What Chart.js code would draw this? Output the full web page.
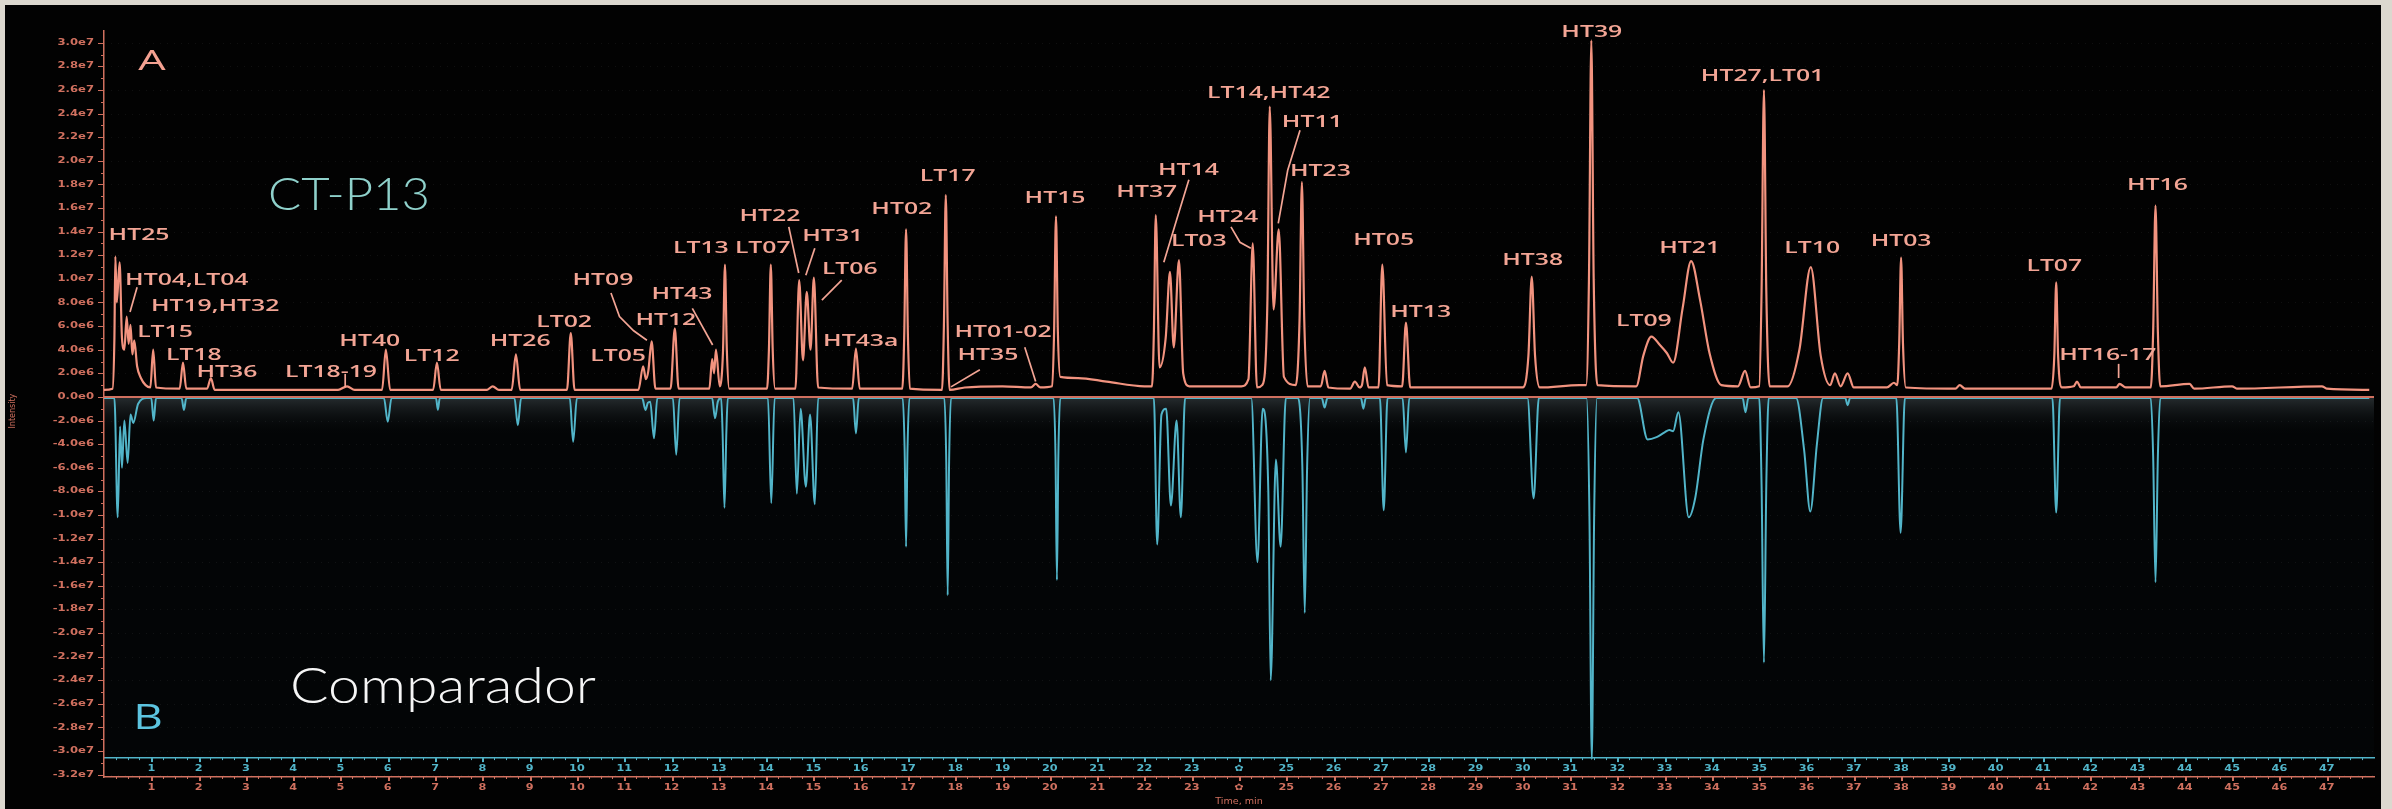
<!DOCTYPE html>
<html>
<head>
<meta charset="utf-8">
<script src="https://cdn.jsdelivr.net/npm/chart.js@4.4.1/dist/chart.umd.min.js"></script>
<style>
  html, body { margin: 0; padding: 0; background: #dcd8cf; }
  canvas { display: block; }
</style>
</head>
<body>
<canvas id="myChart" width="2392" height="809"></canvas>
<script>
// Mirror chromatogram: CT-P13 on top (positive), comparator below (negative).
// Time in minutes, intensity in units of 1e6.

const ctp13Trace = [
  [0.00,0.6],[0.18,0.7],[0.22,5.0],[0.24,11.9],[0.27,8.0],[0.33,11.4],[0.38,5.0],[0.43,4.0],[0.48,6.8],[0.52,4.5],
  [0.56,6.1],[0.60,3.6],[0.64,4.8],[0.70,2.6],[0.78,1.6],[0.88,1.0],[0.98,0.8],[1.04,4.0],[1.10,0.8],[1.60,0.7],
  [1.67,2.9],[1.74,0.7],[2.18,0.7],[2.26,1.6],[2.34,0.6],[4.95,0.6],[5.14,0.9],[5.30,0.6],[5.88,0.6],[5.96,4.0],
  [6.05,0.6],[6.96,0.6],[7.04,2.9],[7.12,0.6],[8.10,0.6],[8.22,0.9],[8.35,0.6],[8.62,0.6],[8.71,3.6],[8.80,0.6],
  [9.79,0.6],[9.87,5.4],[9.95,0.6],[11.30,0.6],[11.40,2.6],[11.46,1.5],[11.51,2.2],[11.58,4.7],[11.66,0.7],[11.98,0.7],
  [12.07,5.8],[12.15,0.7],[12.80,0.7],[12.86,3.2],[12.90,2.0],[12.94,4.0],[13.02,0.9],[13.09,4.0],[13.13,11.2],[13.17,4.0],
  [13.22,0.7],[14.02,0.7],[14.06,4.0],[14.10,11.2],[14.14,4.0],[14.19,0.7],[14.62,0.7],[14.70,9.9],[14.78,3.1],[14.86,8.9],
  [14.94,4.0],[15.01,10.1],[15.10,0.8],[15.82,0.7],[15.90,4.1],[15.98,0.7],[16.88,0.7],[16.92,5.0],[16.96,14.2],[17.00,5.0],
  [17.04,0.7],[17.72,0.6],[17.76,6.0],[17.80,17.1],[17.84,6.0],[17.88,0.6],[18.20,0.8],[19.00,0.9],[19.60,0.8],[19.70,1.1],
  [19.80,0.8],[20.05,0.9],[20.09,5.5],[20.13,15.3],[20.17,5.5],[20.22,1.7],[20.60,1.6],[21.20,1.3],[22.00,0.9],[22.16,0.9],
  [22.20,5.5],[22.24,15.4],[22.32,2.5],[22.45,5.0],[22.54,10.6],[22.62,4.2],[22.73,11.6],[22.82,2.0],[22.95,0.9],[24.05,0.9],
  [24.20,1.5],[24.29,13.0],[24.38,0.8],[24.49,1.0],[24.60,8.0],[24.65,24.6],[24.73,7.4],[24.84,14.2],[24.95,1.7],[25.20,1.0],
  [25.28,6.5],[25.33,18.2],[25.38,6.5],[25.45,0.9],[25.73,0.9],[25.81,2.2],[25.89,0.8],[26.35,0.7],[26.45,1.3],[26.55,0.8],
  [26.60,1.0],[26.66,2.5],[26.74,0.8],[26.95,0.8],[27.03,11.2],[27.13,1.0],[27.45,0.9],[27.53,6.3],[27.62,0.8],[30.00,0.8],
  [30.12,3.5],[30.19,10.2],[30.26,3.5],[30.36,0.8],[31.20,1.0],[31.34,1.0],[31.40,10.0],[31.45,30.2],[31.50,10.0],[31.58,1.0],
  [32.40,0.9],[32.55,3.5],[32.72,5.1],[32.90,4.4],[33.05,3.7],[33.18,2.9],[33.38,7.5],[33.56,11.5],[33.75,8.2],[33.95,3.7],
  [34.20,1.0],[34.55,0.9],[34.70,2.2],[34.82,0.8],[35.00,0.9],[35.05,9.0],[35.10,26.0],[35.15,9.0],[35.22,0.9],[35.60,0.9],
  [35.85,4.0],[36.09,11.0],[36.30,3.5],[36.50,1.0],[36.60,2.0],[36.72,0.9],[36.87,2.0],[37.00,0.8],[37.70,0.8],[37.85,1.2],
  [37.92,1.0],[37.96,4.5],[38.00,11.8],[38.04,4.5],[38.10,0.8],[39.15,0.7],[39.24,1.0],[39.35,0.7],[41.18,0.7],[41.24,3.5],
  [41.28,9.7],[41.32,3.5],[41.40,0.8],[41.65,0.9],[41.72,1.3],[41.80,0.8],[42.55,0.8],[42.62,1.1],[42.75,0.8],[43.28,0.8],
  [43.33,5.5],[43.38,16.2],[43.43,5.5],[43.48,0.9],[44.10,1.1],[44.20,0.7],[45.00,0.9],[45.10,0.7],[46.90,0.9],[47.00,0.7],
  [47.90,0.6]
];

const comparatorTrace = [
  [0.00,-0.1],[0.22,-0.1],[0.29,-10.2],[0.34,-2.5],[0.38,-6.0],[0.43,-2.0],[0.50,-5.6],[0.56,-1.5],[0.62,-2.2],[0.72,-0.6],
  [0.90,-0.1],[1.00,-0.1],[1.05,-2.0],[1.10,-0.1],[1.64,-0.1],[1.69,-1.1],[1.74,-0.1],[5.92,-0.1],[6.00,-2.1],[6.08,-0.1],
  [7.02,-0.1],[7.06,-1.1],[7.10,-0.1],[8.68,-0.1],[8.75,-2.4],[8.82,-0.1],[9.85,-0.1],[9.92,-3.8],[10.00,-0.1],[11.38,-0.1],
  [11.45,-1.1],[11.50,-0.5],[11.55,-0.4],[11.63,-3.5],[11.70,-0.1],[12.03,-0.1],[12.10,-4.9],[12.17,-0.1],[12.86,-0.1],[12.92,-1.8],
  [12.98,-0.4],[13.05,-0.1],[13.08,-3.0],[13.12,-9.4],[13.16,-3.0],[13.19,-0.1],[14.04,-0.1],[14.11,-9.0],[14.18,-0.1],[14.58,-0.1],
  [14.65,-8.2],[14.73,-1.0],[14.84,-7.6],[14.93,-1.5],[15.03,-9.1],[15.10,-0.1],[15.84,-0.1],[15.90,-3.1],[15.96,-0.1],[16.89,-0.1],
  [16.93,-4.5],[16.96,-12.7],[16.99,-4.5],[17.03,-0.1],[17.77,-0.1],[17.81,-5.5],[17.84,-16.8],[17.87,-5.5],[17.91,-0.1],[20.08,-0.1],
  [20.12,-5.0],[20.15,-15.5],[20.18,-5.0],[20.22,-0.1],[22.20,-0.1],[22.27,-12.5],[22.36,-1.5],[22.46,-1.0],[22.56,-9.2],[22.68,-2.0],
  [22.77,-10.2],[22.86,-0.1],[24.26,-0.1],[24.39,-14.0],[24.50,-1.0],[24.62,-8.0],[24.67,-24.0],[24.78,-5.3],[24.88,-12.7],[24.99,-0.1],
  [25.25,-0.1],[25.34,-6.0],[25.39,-18.3],[25.44,-6.0],[25.50,-0.1],[25.75,-0.1],[25.81,-0.9],[25.87,-0.1],[26.58,-0.1],[26.63,-1.0],
  [26.68,-0.1],[26.98,-0.1],[27.06,-9.6],[27.14,-0.1],[27.46,-0.1],[27.53,-4.7],[27.60,-0.1],[30.10,-0.1],[30.23,-8.6],[30.34,-0.1],
  [31.35,-0.1],[31.41,-10.0],[31.46,-30.7],[31.51,-10.0],[31.57,-0.1],[32.42,-0.1],[32.64,-3.6],[32.83,-3.4],[33.00,-3.0],[33.10,-2.8],
  [33.18,-2.9],[33.29,-1.3],[33.51,-10.2],[33.65,-8.5],[33.82,-3.6],[34.09,-0.1],[34.65,-0.1],[34.71,-1.3],[34.77,-0.1],[35.00,-0.1],
  [35.05,-7.5],[35.10,-22.5],[35.15,-7.5],[35.20,-0.1],[35.78,-0.1],[35.95,-4.5],[36.08,-9.7],[36.22,-4.0],[36.35,-0.1],[36.82,-0.1],
  [36.87,-0.7],[36.92,-0.1],[37.90,-0.1],[37.99,-11.5],[38.08,-0.1],[41.20,-0.1],[41.28,-9.8],[41.36,-0.1],[43.28,-0.1],[43.33,-5.0],
  [43.38,-15.7],[43.43,-5.0],[43.48,-0.1],[47.90,-0.1]
];

// peak annotations: name, time of label centre, intensity of label centre
const peakNames = ['HT25','HT04,LT04','HT19,HT32','LT15','LT18','HT36','LT18-19','HT40','LT12','HT26',
  'LT02','HT09','LT05','HT12','HT43','LT13','LT07','HT22','HT31','LT06',
  'HT43a','HT02','LT17','HT35','HT01-02','HT15','HT37','HT14','LT03','HT24',
  'LT14,HT42','HT11','HT23','HT05','HT13','HT38','HT39','LT09','HT21','HT27,LT01',
  'LT10','HT03','LT07','HT16-17','HT16'];
const peakLabelTime = [0.74,1.75,2.35,1.29,1.90,2.60,4.80,5.62,6.93,8.80,
  9.73,10.55,10.87,11.88,12.22,12.62,13.93,14.08,15.41,15.77,
  16.00,16.87,17.84,18.69,19.01,20.11,22.05,22.93,23.15,23.76,
  24.63,25.55,25.72,27.06,27.84,30.21,31.46,32.56,33.53,35.07,
  36.12,38.00,41.24,42.37,43.42];
const peakLabelLevel = [13.7,9.9,7.7,5.5,3.5,2.1,2.1,4.7,3.4,4.7,
  6.3,9.9,3.4,6.5,8.7,12.6,12.6,15.3,13.6,10.8,
  4.7,15.9,18.7,3.5,5.5,16.8,17.3,19.2,13.2,15.2,
  25.7,23.3,19.1,13.3,7.2,11.6,30.9,6.4,12.6,27.2,
  12.6,13.2,11.1,3.5,17.9];

// leader lines from labels to their peaks, as (time, intensity) points
const leaderLines = [
  [[0.70,9.3],[0.55,7.2]],
  [[5.10,1.95],[5.10,0.85]],
  [[10.72,8.8],[10.90,6.8],[11.20,5.6],[11.48,4.8]],
  [[12.44,7.5],[12.87,4.4]],
  [[14.48,14.4],[14.69,10.5]],
  [[15.03,12.6],[14.84,10.3]],
  [[15.60,9.9],[15.18,8.2]],
  [[18.52,2.3],[17.91,0.85]],
  [[19.47,4.2],[19.70,1.3]],
  [[22.94,18.4],[22.71,15.4],[22.41,11.4]],
  [[23.83,14.4],[24.02,13.1],[24.25,12.6]],
  [[25.29,22.6],[25.03,19.2],[24.83,14.7]],
  [[42.60,2.8],[42.60,1.6]]
];

const yTicks = [30,28,26,24,22,20,18,16,14,12,10,8,6,4,2,0,-2,-4,-6,-8,-10,-12,-14,-16,-18,-20,-22,-24,-26,-28,-30,-32];
const xTicks = [1,2,3,4,5,6,7,8,9,10,11,12,13,14,15,16,17,18,19,20,21,22,23,24,25,26,27,28,29,30,31,32,33,34,35,36,37,38,39,40,41,42,43,44,45,46,47];
const blueAxisAt = -30.6;

const SALMON = '#f2937f';
const LABEL = '#f3a595';
const AXIS_RED = '#d0705f';
const BLUE = '#52b5c9';

function stretchText(ctx, text, x, y, font, color, sx, align, baseline) {
  ctx.save();
  ctx.translate(x, y);
  ctx.scale(sx, 1);
  ctx.font = font;
  ctx.fillStyle = color;
  ctx.textAlign = align || 'center';
  ctx.textBaseline = baseline || 'middle';
  ctx.fillText(text, 0, 0);
  ctx.restore();
}

function fitText(ctx, text, left, baseline, font, color, width) {
  ctx.save();
  ctx.font = font;
  const w = ctx.measureText(text).width;
  ctx.translate(left, baseline);
  ctx.scale(width / w, 1);
  ctx.fillStyle = color;
  ctx.textAlign = 'left';
  ctx.textBaseline = 'alphabetic';
  ctx.fillText(text, 0, 0);
  ctx.restore();
}

const backdrop = {
  id: 'backdrop',
  beforeDraw(chart) {
    const ctx = chart.ctx, a = chart.chartArea, ys = chart.scales.y;
    ctx.save();
    ctx.fillStyle = '#dcd8cf';
    ctx.fillRect(0, 0, chart.width, chart.height);
    ctx.fillStyle = '#020202';
    ctx.fillRect(5, 5, 2376, chart.height - 5);

    // comparator panel shading
    const y0 = ys.getPixelForValue(0);
    const yb = ys.getPixelForValue(blueAxisAt);
    ctx.fillStyle = '#030506';
    ctx.fillRect(a.left + 1, y0, a.right - a.left - 1, yb - y0);
    const g = ctx.createLinearGradient(0, y0, 0, y0 + 38);
    g.addColorStop(0, 'rgba(48,55,58,0.8)');
    g.addColorStop(1, 'rgba(6,8,10,0)');
    ctx.fillStyle = g;
    ctx.fillRect(a.left + 1, y0, a.right - a.left - 1, 38);

    // faint dotted grid
    ctx.strokeStyle = 'rgba(255,255,255,0.06)';
    ctx.lineWidth = 1;
    ctx.setLineDash([1, 6]);
    yTicks.forEach(v => {
      if (v === 0) return;
      const py = Math.round(ys.getPixelForValue(v)) + 0.5;
      ctx.beginPath();
      ctx.moveTo(a.left, py);
      ctx.lineTo(a.right, py);
      ctx.stroke();
    });
    ctx.restore();
  },
  afterDatasetsDraw(chart) {
    const ctx = chart.ctx, a = chart.chartArea, xs = chart.scales.x, ys = chart.scales.y;
    ctx.save();

    // zero line between the two traces
    const y0 = ys.getPixelForValue(0);
    ctx.strokeStyle = AXIS_RED;
    ctx.lineWidth = 2;
    ctx.beginPath();
    ctx.moveTo(a.left, y0);
    ctx.lineTo(a.right, y0);
    ctx.stroke();

    // leader lines
    ctx.strokeStyle = LABEL;
    ctx.lineWidth = 1.7;
    leaderLines.forEach(pts => {
      ctx.beginPath();
      pts.forEach(([t, v], i) => {
        const px = xs.getPixelForValue(t), py = ys.getPixelForValue(v);
        if (i === 0) ctx.moveTo(px, py); else ctx.lineTo(px, py);
      });
      ctx.stroke();
    });

    // peak names
    peakNames.forEach((name, i) => {
      stretchText(ctx, name, xs.getPixelForValue(peakLabelTime[i]), ys.getPixelForValue(peakLabelLevel[i]),
        '600 16.5px "Open Sans"', LABEL, 1.5);
    });

    // panel letters and sample names
    stretchText(ctx, 'A', 152, 62, '28px "Open Sans"', '#f4a191', 1.55);
    stretchText(ctx, 'B', 148, 719, '34px "Open Sans"', '#5cc4df', 1.35);
    fitText(ctx, 'CT-P13', 268, 210, '300 46px Lato', '#8fd1cb', 162);
    fitText(ctx, 'Comparador', 290, 703, '300 50px Lato', '#f6f6f6', 306);
    ctx.restore();
  },
  afterDraw(chart) {
    const ctx = chart.ctx, a = chart.chartArea, xs = chart.scales.x, ys = chart.scales.y;
    const yb = ys.getPixelForValue(blueAxisAt);
    ctx.save();

    // y axis ticks and labels
    ctx.fillStyle = AXIS_RED;
    for (let v = -32; v <= 30; v += 1) {
      const py = Math.round(ys.getPixelForValue(v));
      ctx.fillRect(a.left - (v % 2 === 0 ? 6 : 3), py, v % 2 === 0 ? 6 : 3, 1);
    }
    yTicks.forEach(v => {
      const txt = (v * 1e6).toExponential(1).replace('+', '');
      stretchText(ctx, txt, 94, ys.getPixelForValue(v), 'bold 8px "DejaVu Sans"', AXIS_RED, 1.45, 'right');
    });

    // time axes: minor dots, major ticks and labels
    for (let q = 1; q < 192; q++) {
      const px = Math.round(xs.getPixelForValue(q / 4));
      const major = q % 4 === 0;
      ctx.fillStyle = BLUE;
      ctx.fillRect(px, yb, major ? 2 : 1, major ? 4 : 2);
      ctx.fillStyle = AXIS_RED;
      ctx.fillRect(px, a.bottom, major ? 2 : 1, major ? 4 : 2);
    }
    xTicks.forEach(t => {
      const px = xs.getPixelForValue(t);
      const txt = t === 24 ? '\u273F' : String(t);
      stretchText(ctx, txt, px, yb + 11, 'bold 9px "DejaVu Sans"', BLUE, 1.25);
      stretchText(ctx, txt, px, a.bottom + 11, 'bold 9px "DejaVu Sans"', AXIS_RED, 1.25);
    });
    stretchText(ctx, 'Time, min', xs.getPixelForValue(24), a.bottom + 25, '8px "DejaVu Sans"', AXIS_RED, 1.2);

    // rotated intensity title
    ctx.save();
    ctx.translate(13, ys.getPixelForValue(-1.2));
    ctx.rotate(-Math.PI / 2);
    ctx.font = '8px "DejaVu Sans"';
    ctx.fillStyle = AXIS_RED;
    ctx.textAlign = 'center';
    ctx.textBaseline = 'middle';
    ctx.fillText('Intensity', 0, 0);
    ctx.restore();

    ctx.restore();
  }
};

const ctx = document.getElementById('myChart').getContext('2d');
new Chart(ctx, {
  type: 'line',
  data: {
    datasets: [{
      label: 'CT-P13',
      data: ctp13Trace.map(([t, v]) => ({ x: t, y: v })),
      borderColor: SALMON,
      borderWidth: 2.2,
      pointRadius: 0,
      cubicInterpolationMode: 'monotone'
    }, {
      label: 'Comparador',
      data: comparatorTrace.map(([t, v]) => ({ x: t, y: v })),
      borderColor: BLUE,
      borderWidth: 2,
      pointRadius: 0,
      cubicInterpolationMode: 'monotone'
    }]
  },
  options: {
    responsive: false,
    animation: false,
    layout: { padding: { left: 0, right: 18, top: 31, bottom: 0 } },
    plugins: { legend: { display: false }, tooltip: { enabled: false } },
    scales: {
      x: {
        type: 'linear', min: 0, max: 48, position: 'bottom',
        grid: { display: false },
        border: { color: AXIS_RED, width: 1.5 },
        ticks: { display: false, stepSize: 1 },
        afterFit(scale) { scale.height = 32; }
      },
      x2: {
        type: 'linear', min: 0, max: 48, position: { y: blueAxisAt },
        grid: { display: false },
        border: { color: BLUE, width: 1.5 },
        ticks: { display: false, stepSize: 1 }
      },
      y: {
        type: 'linear', min: -32.2, max: 31,
        grid: { display: false },
        border: { color: AXIS_RED, width: 1.5 },
        ticks: { display: false, stepSize: 2 },
        afterFit(scale) { scale.width = 104; }
      }
    }
  },
  plugins: [backdrop]
});
</script>
</body>
</html>
